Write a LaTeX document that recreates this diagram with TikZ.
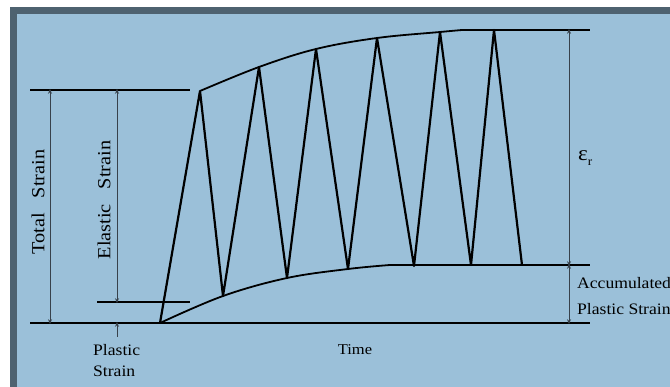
\documentclass[tikz,border=0pt]{standalone}
\usepackage{fontspec}
\setmainfont{Liberation Serif}
\newfontfamily\lblfont[FakeStretch=1.1]{Liberation Serif}
\usetikzlibrary{arrows.meta}
\definecolor{panelblue}{RGB}{155,192,217}
\definecolor{framegrey}{RGB}{78,98,112}
\definecolor{dimgrey}{RGB}{55,65,75}

\begin{document}
\begin{tikzpicture}[x=1pt, y=-1pt,
    level/.style={line width=2.4pt},
    cycle/.style={line width=2.2pt, line join=round},
    envelope/.style={line width=1.8pt},
    dimline/.style={dimgrey, line width=0.8pt,
      {Stealth[length=5pt,width=4pt]}-{Stealth[length=5pt,width=4pt]}},
    lbl/.style={font=\lblfont\fontsize{16}{18}\selectfont, inner sep=0pt},
    vlbl/.style={font=\lblfont\fontsize{18.5}{20}\selectfont, inner sep=0pt, rotate=90}]
  \useasboundingbox (0,0) rectangle (670,387);
  \fill[white] (0,0) rectangle (670,387);
  \fill[framegrey] (10,7) rectangle (670,387);
  \fill[panelblue] (17,14) rectangle (670,387);

  % strain levels
  \coordinate (tl) at (30,90);   \coordinate (tr) at (190,90);
  \coordinate (pl) at (97,302);  \coordinate (pr) at (190,302);
  \coordinate (bl) at (30,323);  \coordinate (br) at (590,323);
  \coordinate (ml) at (390,265); \coordinate (mr) at (590,265);
  \coordinate (ul) at (462,30);  \coordinate (ur) at (590,30);
  \draw[level] (tl) -- (tr);
  \draw[level] (pl) -- (pr);
  \draw[level] (bl) -- (br);
  \draw[level] (ml) -- (mr);
  \draw[level] (ul) -- (ur);

  % load cycles
  \coordinate (v0) at (160,323);
  \coordinate (p1) at (200,91);  \coordinate (v1) at (223,296);
  \coordinate (p2) at (259,67);  \coordinate (v2) at (287,278);
  \coordinate (p3) at (316,49);  \coordinate (v3) at (348,269);
  \coordinate (p4) at (377,38);  \coordinate (v4) at (414,266);
  \coordinate (p5) at (440,32);  \coordinate (v5) at (471,265);
  \coordinate (p6) at (494,30);  \coordinate (v6) at (522,265);
  \draw[cycle] (v0) -- (p1) -- (v1) -- (p2) -- (v2) -- (p3) -- (v3)
    -- (p4) -- (v4) -- (p5) -- (v5) -- (p6) -- (v6);

  % envelopes
  \draw[envelope] plot[smooth, tension=0.6] coordinates
    {(200,91) (259,67) (316,49) (377,38) (440,32) (462,30)};
  \draw[envelope] plot[smooth, tension=0.6] coordinates
    {(160,323) (223,296) (287,278) (348,269) (390,265)};

  % dimensions
  \coordinate (tsx) at (50,0);
  \coordinate (esx) at (117,0);
  \coordinate (erx) at (569,0);
  \draw[dimline] ([yshift=1.2pt]tl -| tsx) -- ([yshift=-1.2pt]bl -| tsx);
  \draw[dimline] ([yshift=1.2pt]tl -| esx) -- ([yshift=-1.2pt]pl -| esx);
  \draw[dimline] ([yshift=1.2pt]ul -| erx) -- ([yshift=-1.2pt]ml -| erx);
  \draw[dimline] ([yshift=1.2pt]ml -| erx) -- ([yshift=-1.2pt]bl -| erx);
  \coordinate (pstail) at (117,337);
  \draw[dimgrey, line width=0.8pt, -{Stealth[length=5pt,width=4pt]}]
    (pstail) -- ([yshift=1.2pt]bl -| esx);

  % labels
  \node[vlbl] (total) at (38,202) {Total\hspace{0.8em}Strain};
  \node[vlbl] (elastic) at (104,200) {Elastic\hspace{0.8em}Strain};
  \node[lbl, anchor=west] (plastic) at (93,350) {Plastic};
  \node[lbl, anchor=west] (plastic2) at (93,371) {Strain};
  \node[lbl, font=\lblfont\fontsize{15}{17}\selectfont] (time) at (355,350) {Time};
  \node[lbl, anchor=west] (epsr) at (578,158)
    {{\fontsize{21}{22}\selectfont ε}\raisebox{-5pt}{\fontsize{12}{13}\selectfont r}};
  \node[lbl, anchor=west] (accum) at (577,283) {Accumulated};
  \node[lbl, anchor=west] (accum2) at (577,309) {Plastic Strain};
\end{tikzpicture}
\end{document}
